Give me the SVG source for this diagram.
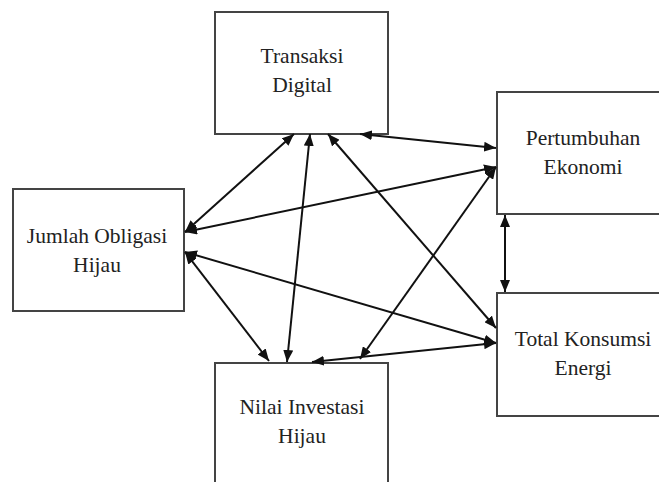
<svg xmlns="http://www.w3.org/2000/svg" width="659" height="482" viewBox="0 0 659 482">
<defs>
<style>
.box{fill:#fff;stroke:#444;stroke-width:2}
.lbl{font-size:21.5px;fill:#222;text-anchor:middle}
.con{stroke:#111;stroke-width:2;fill:none;marker-start:url(#ah);marker-end:url(#ah)}
</style>
<marker id="ah" markerUnits="userSpaceOnUse" markerWidth="13" markerHeight="10" refX="12" refY="5" orient="auto-start-reverse" viewBox="0 0 13 10">
<path d="M0,0 L12,5 L0,10 z" fill="#111"/>
</marker>
</defs>
<rect width="659" height="482" fill="#fff"/>
<g font-family="'Liberation Serif', 'Times New Roman', 'DejaVu Serif', serif">
<g id="node-td"><rect class="box" x="215" y="12" width="173" height="122"/><text class="lbl" x="302" y="63">Transaksi</text><text class="lbl" x="302" y="92">Digital</text></g>
<g id="node-pe"><rect class="box" x="497" y="92" width="175" height="122"/><text class="lbl" x="583" y="145">Pertumbuhan</text><text class="lbl" x="583" y="174">Ekonomi</text></g>
<g id="node-joh"><rect class="box" x="13" y="189" width="171" height="122"/><text class="lbl" x="97" y="243">Jumlah Obligasi</text><text class="lbl" x="97" y="272">Hijau</text></g>
<g id="node-tke"><rect class="box" x="497" y="293" width="175" height="123"/><text class="lbl" x="583" y="346">Total Konsumsi</text><text class="lbl" x="583" y="375">Energi</text></g>
<g id="node-nih"><rect class="box" x="215" y="363" width="173" height="130"/><text class="lbl" x="302" y="414">Nilai Investasi</text><text class="lbl" x="302" y="443">Hijau</text></g>
</g>
<g id="connectors">
<line class="con" x1="360" y1="134" x2="496" y2="148"/>
<line class="con" x1="294" y1="134" x2="185" y2="232"/>
<line class="con" x1="310" y1="134" x2="287" y2="362"/>
<line class="con" x1="328" y1="134" x2="496" y2="328"/>
<line class="con" x1="185" y1="232" x2="496" y2="167"/>
<line class="con" x1="185" y1="252" x2="496" y2="343"/>
<line class="con" x1="185" y1="252" x2="269" y2="361"/>
<line class="con" x1="360" y1="359" x2="496" y2="167"/>
<line class="con" x1="312" y1="362" x2="496" y2="343"/>
<line class="con" x1="505" y1="215" x2="505" y2="292"/>
</g>
</svg>
